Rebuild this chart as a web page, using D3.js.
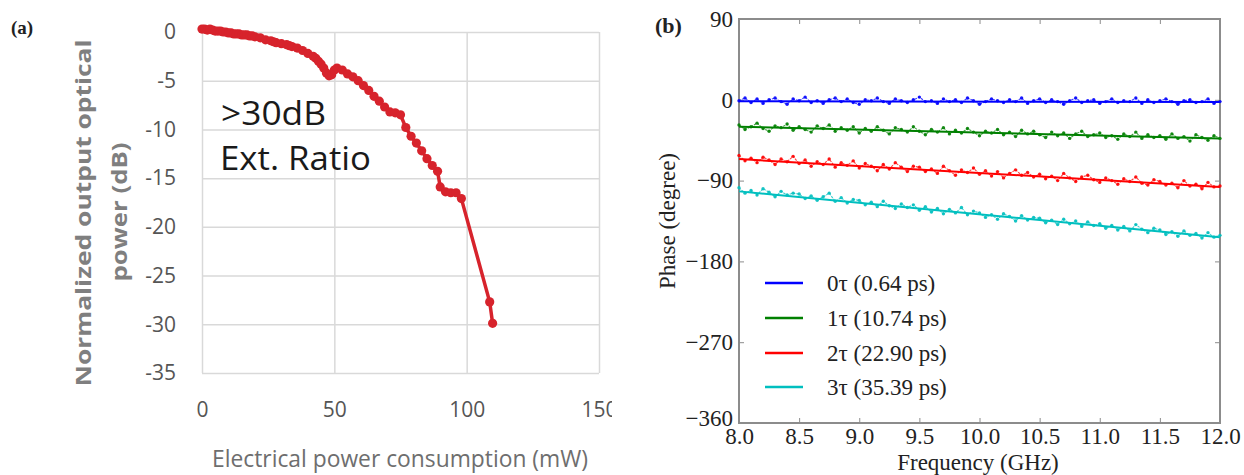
<!DOCTYPE html>
<html>
<head>
<meta charset="utf-8">
<script src="https://cdn.jsdelivr.net/npm/d3@7"></script>
<style>
  html, body { margin: 0; padding: 0; background: #fff; }
  svg { display: block; }
</style>
</head>
<body>
<div id="chart"></div>
<script>
// Panel (a): optical extinction vs. electrical power
const powerMw = [0, 1, 2, 3, 4, 5, 6, 7, 8, 9, 10, 11, 12, 13, 14, 15, 16, 17, 18, 19,
  20, 22, 24, 26, 27, 28, 30, 32, 33, 34, 36, 38, 40, 42, 43, 44, 45, 46, 47, 48, 49,
  50, 51, 53, 55, 57, 59, 61, 63, 65, 67, 69, 71, 73, 75, 77, 79, 81, 83, 85, 87, 89,
  90, 92, 94, 96, 98, 108.7, 109.8];
const opticalDb = [0.3, 0.3, 0.2, 0.3, 0.2, 0.1, 0.1, 0.1, 0.0, 0.0, -0.1, -0.1, -0.2, -0.2, -0.2, -0.3, -0.3, -0.3, -0.4, -0.4,
  -0.5, -0.6, -0.8, -0.9, -1.0, -1.1, -1.2, -1.3, -1.4, -1.5, -1.65, -1.9, -2.2, -2.5, -2.7, -3.0, -3.3, -3.7, -4.2, -4.5, -4.4,
  -3.9, -3.7, -3.9, -4.3, -4.6, -5.0, -5.5, -6.0, -6.6, -7.1, -7.7, -8.2, -8.3, -8.5, -9.8, -10.7, -11.4, -12.2, -13.0, -13.7, -14.3,
  -15.9, -16.4, -16.5, -16.5, -17.1, -27.7, -29.9];
const xTicksA = [0, 50, 100, 150];
const yTicksA = [0, -5, -10, -15, -20, -25, -30, -35];

// Panel (b): phase vs. frequency for four delay states
const freqGhz = d3.range(81).map(i => +(8 + i * 0.05).toFixed(2));
const seriesNames = ['0τ (0.64 ps)', '1τ (10.74 ps)', '2τ (22.90 ps)', '3τ (35.39 ps)'];
const seriesColors = ['#0000ff', '#008000', '#ff0000', '#00bfbf'];
const phase0 = [-1, 2, -3, 1, -4, 0, 2, -2, -5, 1, -1, 3, -3, -1, -4, 0, 2, -2, 1, -3,
  -5, 0, -1, 2, -2, -4, 1, -1, -3, 0, 3, -2, -1, -4, 1, -2, 0, -3, 2, -1,
  -5, -2, 1, -1, -3, 0, -2, 2, -4, -1, 1, -3, 0, -2, -5, -1, 2, -3, -1, 0,
  -4, -2, 1, -3, -1, -2, 2, -4, 0, -3, -1, 1, -2, -5, -1, 0, -3, -2, 1, -4, -2];
const phase1 = [-28, -33, -30, -26, -32, -35, -29, -31, -27, -34, -30, -33, -36, -29, -32, -28, -35, -31, -34, -30,
  -37, -32, -35, -30, -34, -38, -31, -33, -36, -30, -35, -39, -33, -36, -31, -38, -34, -37, -32, -36,
  -40, -35, -37, -33, -39, -36, -41, -34, -38, -35, -39, -42, -36, -40, -37, -43, -38, -35, -41, -39,
  -37, -42, -40, -44, -38, -41, -36, -43, -39, -42, -40, -44, -38, -43, -41, -46, -39, -42, -45, -40, -43];
const phase2 = [-62, -68, -65, -70, -64, -67, -72, -66, -69, -63, -71, -67, -74, -69, -72, -66, -75, -70, -73, -68,
  -76, -71, -74, -79, -72, -77, -70, -75, -80, -74, -75, -80, -77, -82, -74, -79, -84, -78, -81, -76,
  -83, -79, -85, -80, -87, -82, -78, -84, -81, -86, -83, -88, -85, -90, -82, -87, -91, -86, -84, -89,
  -92, -87, -90, -94, -88, -91, -86, -93, -95, -89, -91, -95, -93, -98, -90, -96, -94, -99, -92, -97, -96];
const phase3 = [-98, -104, -101, -106, -99, -103, -108, -102, -106, -104, -105, -110, -107, -112, -108, -104, -113, -109, -115, -111,
  -112, -117, -114, -119, -113, -118, -121, -116, -120, -117, -123, -119, -125, -121, -127, -122, -126, -120, -128, -124,
  -126, -131, -128, -133, -127, -130, -135, -129, -134, -131, -132, -137, -134, -139, -133, -138, -135, -141, -136, -140,
  -138, -143, -140, -145, -141, -146, -139, -144, -148, -143, -145, -150, -147, -152, -146, -151, -149, -154, -148, -153, -151];
const fitAt8 = [-1.5, -30, -66, -102];
const fitAt12 = [-2.5, -43, -97, -153];
const xTicksB = [8.0, 8.5, 9.0, 9.5, 10.0, 10.5, 11.0, 11.5, 12.0];
const yTicksB = [90, 0, -90, -180, -270, -360];

const W = 1244, H = 475;
const svg = d3.select('#chart').append('svg').attr('width', W).attr('height', H);

// ---------- panel (a) ----------
const sans = '"Open Sans", sans-serif';
const serif = '"Liberation Serif", "Times New Roman", serif';
const red = '#d7232c';

svg.append('clipPath').attr('id', 'clipA')
  .append('rect').attr('x', 0).attr('y', 0).attr('width', 612).attr('height', H);
const gA = svg.append('g').attr('clip-path', 'url(#clipA)');

const xA = d3.scaleLinear().domain([0, 150]).range([202, 599]);
const yA = d3.scaleLinear().domain([-35, 0]).range([373, 32]);

const gridA = '#d9d9d9';
gA.append('g')
  .attr('transform', `translate(${xA(0)},0)`)
  .call(d3.axisLeft(yA).tickValues(yTicksA).tickFormat(d => String(d))
    .tickSize(-(xA(150) - xA(0))).tickPadding(26))
  .call(g => g.select('.domain').remove())
  .call(g => g.selectAll('line').attr('stroke', gridA).attr('stroke-width', 1.5))
  .call(g => g.selectAll('text').attr('fill', '#555').attr('font-size', 21).attr('font-family', sans));

gA.append('g')
  .attr('transform', `translate(0,${yA(-35)})`)
  .call(d3.axisBottom(xA).tickValues(xTicksA).tickFormat(d => String(d))
    .tickSize(-(yA(-35) - yA(0))).tickPadding(29))
  .call(g => g.select('.domain').remove())
  .call(g => g.selectAll('line').attr('stroke', gridA).attr('stroke-width', 1.5))
  .call(g => g.selectAll('text').attr('fill', '#555').attr('font-size', 21).attr('font-family', sans));

const ptsA = powerMw.map((x, i) => [x, opticalDb[i]]);
gA.append('path')
  .datum(ptsA)
  .attr('fill', 'none')
  .attr('stroke', red)
  .attr('stroke-width', 3.5)
  .attr('stroke-linejoin', 'round')
  .attr('d', d3.line().x(d => xA(d[0])).y(d => yA(d[1])));
gA.append('g').selectAll('circle')
  .data(ptsA)
  .join('circle')
  .attr('cx', d => xA(d[0]))
  .attr('cy', d => yA(d[1]))
  .attr('r', 4.6)
  .attr('fill', red);

gA.append('text').attr('x', 221).attr('y', 125)
  .attr('font-family', sans).attr('font-size', 32).attr('fill', '#1a1a1a')
  .attr('textLength', 105).attr('lengthAdjust', 'spacingAndGlyphs')
  .text('>30dB');
gA.append('text').attr('x', 220).attr('y', 170)
  .attr('font-family', sans).attr('font-size', 32).attr('fill', '#1a1a1a')
  .attr('textLength', 151).attr('lengthAdjust', 'spacingAndGlyphs')
  .text('Ext. Ratio');

gA.append('text').attr('x', 400).attr('y', 467)
  .attr('text-anchor', 'middle')
  .attr('font-family', sans).attr('font-size', 24).attr('fill', '#6e6e6e')
  .attr('textLength', 376).attr('lengthAdjust', 'spacingAndGlyphs')
  .text('Electrical power consumption (mW)');

gA.append('text')
  .attr('transform', 'translate(91,213) rotate(-90)')
  .attr('text-anchor', 'middle')
  .attr('font-family', sans).attr('font-size', 22).attr('font-weight', 700).attr('fill', '#7f7f7f')
  .attr('textLength', 347).attr('lengthAdjust', 'spacingAndGlyphs')
  .text('Normalized output optical');
gA.append('text')
  .attr('transform', 'translate(127,212) rotate(-90)')
  .attr('text-anchor', 'middle')
  .attr('font-family', sans).attr('font-size', 22).attr('font-weight', 700).attr('fill', '#7f7f7f')
  .attr('textLength', 139).attr('lengthAdjust', 'spacingAndGlyphs')
  .text('power (dB)');

svg.append('text').attr('x', 11).attr('y', 34)
  .attr('font-family', serif).attr('font-size', 19).attr('font-weight', 'bold').attr('fill', '#222')
  .text('(a)');

// ---------- panel (b) ----------
const xB = d3.scaleLinear().domain([8, 12]).range([739, 1220]);
const yB = d3.scaleLinear().domain([-360, 90]).range([423, 19]);
const gB = svg.append('g');
const frame = '#8c8c8c';

gB.append('rect')
  .attr('x', xB(8)).attr('y', yB(90))
  .attr('width', xB(12) - xB(8)).attr('height', yB(-360) - yB(90))
  .attr('fill', 'none').attr('stroke', frame).attr('stroke-width', 2);

function styleAxis(g, withText) {
  g.select('.domain').remove();
  g.selectAll('line').attr('stroke', frame).attr('stroke-width', 1);
  if (withText) {
    g.selectAll('text').attr('fill', '#222').attr('font-size', 23).attr('font-family', serif);
  }
}

gB.append('g').attr('transform', `translate(0,${yB(-360)})`)
  .call(d3.axisBottom(xB).tickValues(xTicksB).tickFormat(d3.format('.1f')).tickSize(-5).tickPadding(5))
  .call(g => styleAxis(g, true));
gB.append('g').attr('transform', `translate(0,${yB(90)})`)
  .call(d3.axisTop(xB).tickValues(xTicksB).tickFormat('').tickSize(-5))
  .call(g => styleAxis(g, false));
gB.append('g').attr('transform', `translate(${xB(8)},0)`)
  .call(d3.axisLeft(yB).tickValues(yTicksB).tickFormat(d => d < 0 ? '\u2212' + Math.abs(d) : String(d)).tickSize(-5).tickPadding(6))
  .call(g => styleAxis(g, true))
  .call(g => g.selectAll('.tick').filter(d => d === -360).select('text').attr('dy', '0.1em'));
gB.append('g').attr('transform', `translate(${xB(12)},0)`)
  .call(d3.axisRight(yB).tickValues(yTicksB).tickFormat('').tickSize(-5))
  .call(g => styleAxis(g, false));

const phases = [phase0, phase1, phase2, phase3];
const lineB = d3.line().x(d => xB(d[0])).y(d => yB(d[1]));

phases.forEach((ph, s) => {
  const pts = freqGhz.map((f, i) => [f, ph[i]]);
  const col = seriesColors[s];
  gB.append('path').datum(pts)
    .attr('fill', 'none').attr('stroke', col)
    .attr('stroke-width', 1.1).attr('stroke-opacity', 0.75)
    .attr('stroke-dasharray', '2.5,1')
    .attr('d', lineB);
  gB.append('g').selectAll('circle').data(pts).join('circle')
    .attr('cx', d => xB(d[0])).attr('cy', d => yB(d[1]))
    .attr('r', 1.7).attr('fill', col).attr('fill-opacity', 0.9);
  gB.append('path').datum([[8, fitAt8[s]], [12, fitAt12[s]]])
    .attr('fill', 'none').attr('stroke', col).attr('stroke-width', 2)
    .attr('d', lineB);
});

// legend
const legY = [283, 318, 353, 387];
seriesNames.forEach((name, s) => {
  gB.append('line')
    .attr('x1', 765).attr('x2', 803).attr('y1', legY[s]).attr('y2', legY[s])
    .attr('stroke', seriesColors[s]).attr('stroke-width', 2.5);
  gB.append('text')
    .attr('x', 827).attr('y', legY[s]).attr('dy', '0.35em')
    .attr('font-family', serif).attr('font-size', 23).attr('fill', '#222')
    .text(name);
});

gB.append('text')
  .attr('x', 978).attr('y', 470).attr('text-anchor', 'middle')
  .attr('font-family', serif).attr('font-size', 23).attr('fill', '#222')
  .text('Frequency (GHz)');
gB.append('text')
  .attr('transform', 'translate(675,221) rotate(-90)')
  .attr('text-anchor', 'middle')
  .attr('font-family', serif).attr('font-size', 23).attr('fill', '#222')
  .text('Phase (degree)');

svg.append('text').attr('x', 655).attr('y', 33)
  .attr('font-family', serif).attr('font-size', 22).attr('font-weight', 'bold').attr('fill', '#222')
  .text('(b)');
</script>
</body>
</html>
